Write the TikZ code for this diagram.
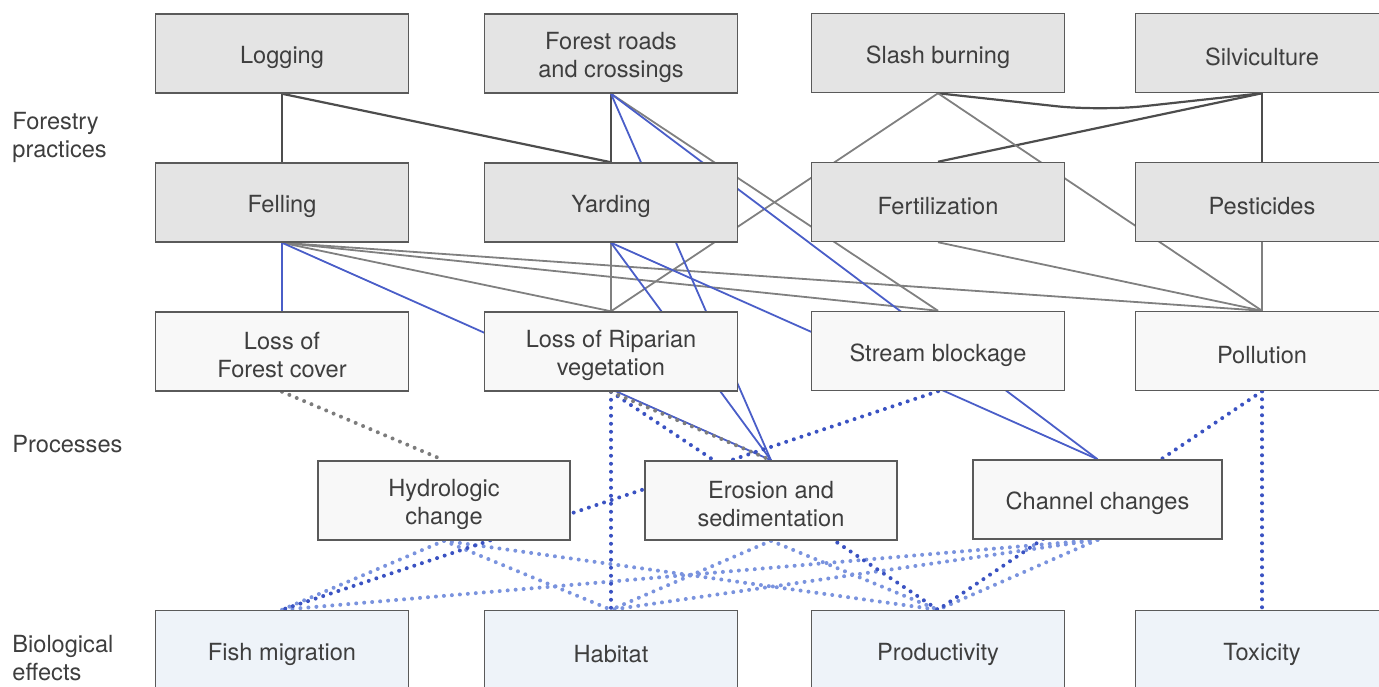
\documentclass[tikz,border=0pt]{standalone}
\usepackage{fontspec}
\setmainfont{TeX Gyre Heros}
\usetikzlibrary{backgrounds}
\definecolor{txt}{HTML}{3E3E3E}
\definecolor{boxline}{HTML}{5A5A5A}
\definecolor{fpfill}{HTML}{E4E4E4}
\definecolor{prfill}{HTML}{F8F8F8}
\definecolor{befill}{HTML}{EEF3F9}
\definecolor{darkc}{HTML}{4D4D4D}
\definecolor{grayc}{HTML}{808080}
\definecolor{bluec}{HTML}{4A5EC8}
\definecolor{dkblue}{HTML}{3A52C2}
\definecolor{ltblue}{HTML}{7A93DE}
\definecolor{grdotc}{HTML}{7C7C7C}
\tikzset{
  box/.style={draw=boxline, line width=0.75pt, minimum width=126.5pt, minimum height=39.5pt,
    inner sep=0pt},
  bt/.style={align=center, inner sep=0pt, yshift=-2pt, text=txt, font=\fontsize{11.8}{14}\selectfont},
  fpbox/.style={box, fill=fpfill},
  prbox/.style={box, fill=prfill},
  bebox/.style={box, fill=befill},
  darkline/.style={draw=darkc, line width=1.1pt},
  grayline/.style={draw=grayc, line width=0.9pt},
  blueline/.style={draw=bluec, line width=0.9pt},
  dots/.style={line width=2pt, line cap=round, dash pattern=on 0pt off 4pt},
  dkdot/.style={dots, draw=dkblue},
  ltdot/.style={dots, draw=ltblue},
  grdot/.style={dots, draw=grdotc},
  lbl/.style={anchor=west, align=left, inner sep=0pt, text=txt, font=\fontsize{11.8}{14}\selectfont}
}
\begin{document}
\begin{tikzpicture}[x=0.5pt,y=-0.5pt]
\useasboundingbox (0,0) rectangle (1379,686);
\clip (0,0) rectangle (1379,686);
% Forestry practices
\node[fpbox, label={[bt]center:Logging}] (log)  at (282,53.5) {};
\node[fpbox, label={[bt]center:Forest roads\\and crossings}] (frd)  at (611,53.5) {};
\node[fpbox, label={[bt]center:Slash burning}] (slb)  at (938,53) {};
\node[fpbox, label={[bt]center:Silviculture}] (silv) at (1262,53) {};
\node[fpbox, label={[bt]center:Felling}] (fel)  at (282,202.5) {};
\node[fpbox, label={[bt]center:Yarding}] (yar)  at (611,202.5) {};
\node[fpbox, label={[bt]center:Fertilization}] (fert) at (938,202) {};
\node[fpbox, label={[bt]center:Pesticides}] (pest) at (1262,202) {};
% Processes
\node[prbox, label={[bt]center:Loss of\\Forest cover}] (lfc) at (282,351.5) {};
\node[prbox, label={[bt]center:Loss of Riparian\\vegetation}] (rip) at (611,351.5) {};
\node[prbox, label={[bt]center:Stream blockage}] (stb) at (938,351) {};
\node[prbox, label={[bt]center:Pollution}] (pol) at (1262,351) {};
\node[prbox, minimum width=126pt, label={[bt]center:Hydrologic\\change}] (hyd) at (444,500.5) {};
\node[prbox, minimum width=126pt, label={[bt]center:Erosion and\\sedimentation}] (ero) at (771,500.5) {};
\node[prbox, minimum width=124.5pt, label={[bt]center:Channel changes}] (chc) at (1097.5,499.5) {};
% Biological effects
\node[bebox, label={[bt]center:Fish migration}] (fis) at (282,650) {};
\node[bebox, label={[bt]center:Habitat}] (hab) at (611,650) {};
\node[bebox, label={[bt]center:Productivity}] (prd) at (938,650) {};
\node[bebox, label={[bt]center:Toxicity}] (tox) at (1262,650) {};
% Row labels
\node[lbl] (l1) at (12,137) {Forestry\\practices};
\node[lbl] (l2) at (12,444) {Processes};
\node[lbl] (l3) at (12,658.5) {Biological\\effects};
\coordinate (bend) at (1100,111);
\begin{pgfonlayer}{background}
  % dark solid
  \draw[darkline] (log.south) -- (fel.north);
  \draw[darkline] (log.south) -- (yar.north);
  \draw[darkline] (frd.south) -- (yar.north);
  \draw[darkline, rounded corners=22pt] (slb.south) -- (bend) -- (silv.south);
  \draw[darkline] (silv.south) -- (fert.north);
  \draw[darkline] (silv.south) -- (pest.north);
  % gray solid
  \draw[grayline] (slb.south) -- (rip.north);
  \draw[grayline] (slb.south) -- (pol.north);
  \draw[grayline] (frd.south) -- (stb.north);
  \draw[grayline] (fel.south) -- (rip.north);
  \draw[grayline] (fel.south) -- (stb.north);
  \draw[grayline] (fel.south) -- (pol.north);
  \draw[grayline] (yar.south) -- (rip.north);
  \draw[grayline] (fert.south) -- (pol.north);
  \draw[grayline] (pest.south) -- (pol.north);
  % blue solid
  \draw[blueline] (frd.south) -- (ero.north);
  \draw[blueline] (frd.south) -- (chc.north);
  \draw[blueline] (yar.south) -- (ero.north);
  \draw[blueline] (yar.south) -- (chc.north);
  \draw[blueline] (fel.south) -- (lfc.north);
  \draw[blueline] (fel.south) -- (ero.north);
  % light blue dotted (processes -> effects)
  \draw[ltdot] (hyd.south) -- (fis.north);
  \draw[ltdot] (hyd.south) -- (hab.north);
  \draw[ltdot] (hyd.south) -- (prd.north);
  \draw[ltdot] (ero.south) -- (hab.north);
  \draw[ltdot] (ero.south) -- (prd.north);
  \draw[ltdot] (chc.south) -- (fis.north);
  \draw[ltdot] (chc.south) -- (hab.north);
  \draw[ltdot] (chc.south) -- (prd.north);
  % dark blue dotted
  \draw[dkdot] (rip.south) -- (hab.north);
  \draw[dkdot] (rip.south) -- (prd.north);
  \draw[dkdot] (stb.south) -- (fis.north);
  \draw[dkdot] (pol.south) -- (tox.north);
  \draw[dkdot] (pol.south) -- (prd.north);
  % gray dotted
  \draw[grdot] (lfc.south) -- (hyd.north);
  \draw[grdot] (rip.south) -- (ero.north);
\end{pgfonlayer}
\end{tikzpicture}
\end{document}
